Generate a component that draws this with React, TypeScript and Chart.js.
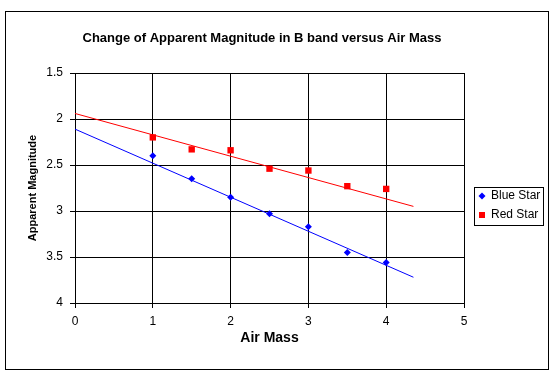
import React, { useEffect, useRef } from "react";
import { Chart, registerables } from "chart.js";

Chart.register(...registerables);

const titleText = "Change of Apparent Magnitude in B band versus Air Mass";
const xTitle = "Air Mass";
const yTitle = "Apparent Magnitude";
const seriesNames = ["Blue Star", "Red Star"];
const seriesColors = ["#0000FF", "#FF0000"];
const airMass = [1, 1.5, 2, 2.5, 3, 3.5, 4];
const blueStar = [2.4, 2.65, 2.85, 3.03, 3.17, 3.45, 3.56];
const redStar = [2.2, 2.33, 2.34, 2.54, 2.56, 2.73, 2.76];
const trendX = [0, 4.35];
const blueTrend = [2.11, 3.72];
const redTrend = [1.94, 2.95];
const xRange = [0, 5];
const yRange = [1.5, 4];

const FONT = "'Liberation Sans', Arial, sans-serif";

const framePlugin = {
  id: "frame",
  beforeDraw(chart: any) {
    const ctx = chart.ctx;
    ctx.save();
    ctx.fillStyle = "#ffffff";
    ctx.fillRect(0, 0, chart.width, chart.height);
    ctx.restore();
  },
  afterDraw(chart: any) {
    const ctx = chart.ctx;
    ctx.save();
    // outer border
    ctx.strokeStyle = "#000";
    ctx.lineWidth = 1;
    ctx.strokeRect(5.5, 11.5, 543, 358);
    // title
    ctx.fillStyle = "#000";
    ctx.font = "bold 13px " + FONT;
    ctx.textAlign = "center";
    ctx.textBaseline = "middle";
    ctx.fillText(titleText, 262, 38);
    // legend
    ctx.fillStyle = "#fff";
    ctx.fillRect(474, 187, 69, 38);
    ctx.strokeRect(474.5, 187.5, 69, 38);
    const ds = chart.data.datasets;
    [0, 1].forEach((i) => {
      const d = ds[i];
      const cy = 196 + i * 19;
      ctx.fillStyle = d.backgroundColor;
      if (d.pointStyle === "rectRot") {
        ctx.beginPath();
        ctx.moveTo(482, cy - 3.5);
        ctx.lineTo(485.5, cy);
        ctx.lineTo(482, cy + 3.5);
        ctx.lineTo(478.5, cy);
        ctx.closePath();
        ctx.fill();
      } else {
        ctx.fillRect(479, cy - 3, 6, 6);
      }
      ctx.fillStyle = "#000";
      ctx.font = "12px " + FONT;
      ctx.textAlign = "left";
      ctx.textBaseline = "middle";
      ctx.fillText(d.label, 491, cy);
    });
    ctx.restore();
  },
};

export default function App() {
  const ref = useRef<HTMLCanvasElement>(null);
  useEffect(() => {
    if (!ref.current) return;
    const pts = (ys: number[]) => airMass.map((x, i) => ({ x, y: ys[i] }));
    const trend = (ys: number[]) => trendX.map((x, i) => ({ x, y: ys[i] }));
    const chart = new Chart(ref.current, {
      type: "scatter",
      data: {
        datasets: [
          {
            label: seriesNames[0],
            data: pts(blueStar),
            backgroundColor: seriesColors[0],
            borderColor: seriesColors[0],
            pointStyle: "rectRot",
            pointRadius: 3.5,
            pointBorderWidth: 0,
            order: 0,
          },
          {
            label: seriesNames[1],
            data: pts(redStar),
            backgroundColor: seriesColors[1],
            borderColor: seriesColors[1],
            pointStyle: "rect",
            pointRadius: 4.5,
            pointBorderWidth: 0,
            order: 0,
          },
          {
            label: "Blue trend",
            data: trend(blueTrend),
            showLine: true,
            borderColor: seriesColors[0],
            backgroundColor: seriesColors[0],
            borderWidth: 1,
            pointRadius: 0,
            order: 1,
          },
          {
            label: "Red trend",
            data: trend(redTrend),
            showLine: true,
            borderColor: seriesColors[1],
            backgroundColor: seriesColors[1],
            borderWidth: 1,
            pointRadius: 0,
            order: 1,
          },
        ] as any,
      },
      options: {
        animation: false,
        responsive: false,
        devicePixelRatio: 1,
        layout: { padding: { left: 0, top: 73, right: 88, bottom: 0 } },
        plugins: {
          legend: { display: false },
          title: { display: false },
          tooltip: { enabled: false },
        },
        scales: {
          x: {
            type: "linear",
            min: xRange[0],
            max: xRange[1],
            ticks: {
              stepSize: 1,
              color: "#000",
              font: { family: FONT, size: 12 },
              padding: 6,
              maxRotation: 0,
              callback: (v: number) => String(v),
            },
            grid: { color: "#000", lineWidth: 1, tickLength: 5, tickColor: "#000" },
            border: { color: "#000", width: 1 },
            title: {
              display: true,
              text: xTitle,
              color: "#000",
              font: { family: FONT, size: 14, weight: "bold" },
              padding: { top: 0, bottom: 31 },
            },
            afterFit(scale: any) {
              scale.height = 75;
            },
          },
          y: {
            type: "linear",
            reverse: true,
            min: yRange[0],
            max: yRange[1],
            ticks: {
              stepSize: 0.5,
              color: "#000",
              font: { family: FONT, size: 12 },
              padding: 7,
              callback: (v: number) => String(v),
            },
            grid: { color: "#000", lineWidth: 1, tickLength: 5, tickColor: "#000" },
            border: { color: "#000", width: 1 },
            title: {
              display: true,
              text: yTitle,
              color: "#000",
              font: { family: FONT, size: 11, weight: "bold" },
              padding: { top: 26, bottom: 0 },
            },
            afterFit(scale: any) {
              scale.width = 75;
            },
          },
        },
      } as any,
      plugins: [framePlugin],
    });
    return () => chart.destroy();
  }, []);
  return (
    <div style={{ position: "absolute", left: 0, top: 0, width: 552, height: 378 }}>
      <canvas ref={ref} width={552} height={378} style={{ display: "block" }} />
    </div>
  );
}
